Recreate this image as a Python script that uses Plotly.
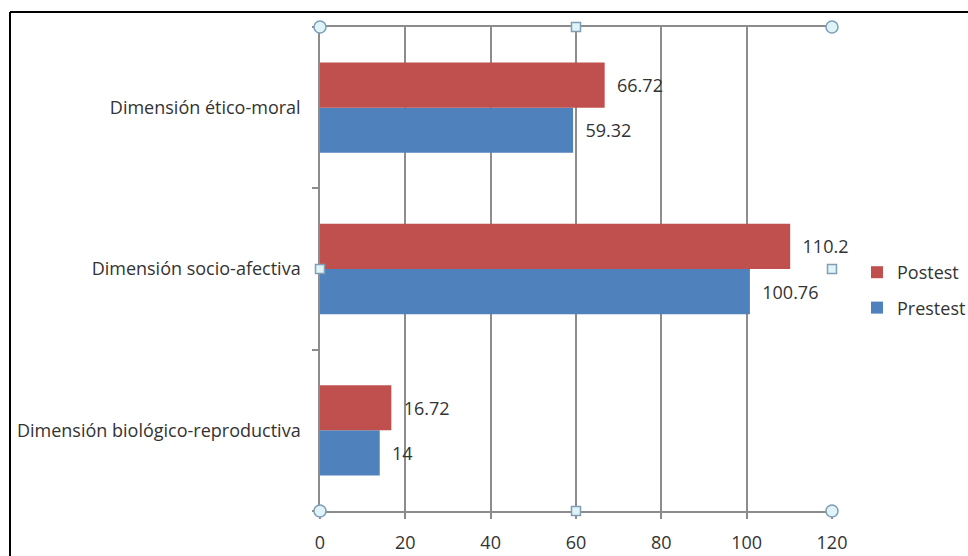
import plotly.graph_objects as go

categories = ["Dimensión biológico-reproductiva", "Dimensión socio-afectiva", "Dimensión ético-moral"]
prestest = [14, 100.76, 59.32]
postest = [16.72, 110.2, 66.72]
series_names = ["Prestest", "Postest"]
x_ticks = [0, 20, 40, 60, 80, 100, 120]

RED = "#C0504D"
BLUE = "#4F81BD"
GRID = "#8c8c8c"
TXT = "#333333"
FONT = "Open Sans"
FS = 18

def fmt(v):
    return "  " + (f"{v:g}")

fig = go.Figure()
fig.add_trace(go.Bar(
    y=categories, x=prestest, name=series_names[0], orientation="h",
    legendgroup="a", legendrank=2,
    marker=dict(color=BLUE, line=dict(width=0)),
    text=[fmt(v) for v in prestest], textposition="outside", cliponaxis=False,
    textfont=dict(size=FS, color=TXT, family=FONT),
))
fig.add_trace(go.Bar(
    y=categories, x=postest, name=series_names[1], orientation="h",
    legendgroup="b", legendrank=1,
    marker=dict(color=RED, line=dict(width=0)),
    text=[fmt(v) for v in postest], textposition="outside", cliponaxis=False,
    textfont=dict(size=FS, color=TXT, family=FONT),
))

xmin, xmax = x_ticks[0], x_ticks[-1]
def px(xv):
    return (xv - xmin) / (xmax - xmin)

# selection handles of the plot area (decorative)
shapes = []
handle_line = "#7f9fb5"
handle_fill = "#dff3f8"
for xv in (xmin, xmax):
    for yv in (0, 1):
        shapes.append(dict(type="circle", xref="paper", yref="paper",
                           xsizemode="pixel", ysizemode="pixel",
                           xanchor=px(xv), yanchor=yv, x0=-6, x1=6, y0=-6, y1=6,
                           line=dict(color=handle_line, width=1.5), fillcolor=handle_fill, layer="above"))
mid = (xmin + xmax) / 2
for (xv, yv) in ((mid, 0), (mid, 1), (xmin, 0.5), (xmax, 0.5)):
    shapes.append(dict(type="rect", xref="paper", yref="paper",
                       xsizemode="pixel", ysizemode="pixel",
                       xanchor=px(xv), yanchor=yv, x0=-4.5, x1=4.5, y0=-4.5, y1=4.5,
                       line=dict(color=handle_line, width=1.5), fillcolor=handle_fill, layer="above"))
# outer black frame (open at right and bottom, as cropped)
shapes.append(dict(type="line", xref="paper", yref="paper",
                   x0=(10 - 320) / 512, x1=(970 - 320) / 512,
                   y0=(511 - 12) / 484, y1=(511 - 12) / 484,
                   line=dict(color="black", width=2)))
shapes.append(dict(type="line", xref="paper", yref="paper",
                   x0=(10 - 320) / 512, x1=(10 - 320) / 512,
                   y0=(511 - 12) / 484, y1=(511 - 560) / 484,
                   line=dict(color="black", width=2)))

fig.update_layout(
    width=968, height=556,
    margin=dict(l=320, r=136, t=27, b=45, autoexpand=False),
    paper_bgcolor="white", plot_bgcolor="white",
    barmode="group", bargap=0.44, bargroupgap=0,
    font=dict(family=FONT, size=FS, color=TXT),
    showlegend=True,
    legend=dict(x=(857 - 320) / 512, xanchor="left", y=(511 - 254) / 484, yanchor="top",
                traceorder="grouped", font=dict(size=FS, color=TXT, family=FONT),
                itemwidth=30, tracegroupgap=9, bgcolor="rgba(0,0,0,0)"),
    shapes=shapes,
)
fig.update_xaxes(range=[xmin, xmax], tickvals=x_ticks,
                 showgrid=True, gridcolor=GRID, gridwidth=1.5,
                 showline=True, linecolor=GRID, linewidth=1.5, mirror=True,
                 ticks="outside", ticklen=6, tickcolor=GRID, tickwidth=1.5,
                 tickfont=dict(size=FS, color=TXT, family=FONT), zeroline=False,
                 ticklabelstandoff=9)
fig.update_yaxes(showgrid=False, showline=True, linecolor=GRID, linewidth=1.5,
                 ticks="outside", tickson="boundaries", ticklen=6, tickcolor=GRID, tickwidth=1.5,
                 tickfont=dict(size=FS, color=TXT, family=FONT), ticklabelstandoff=14)

fig.write_html("out.html")
